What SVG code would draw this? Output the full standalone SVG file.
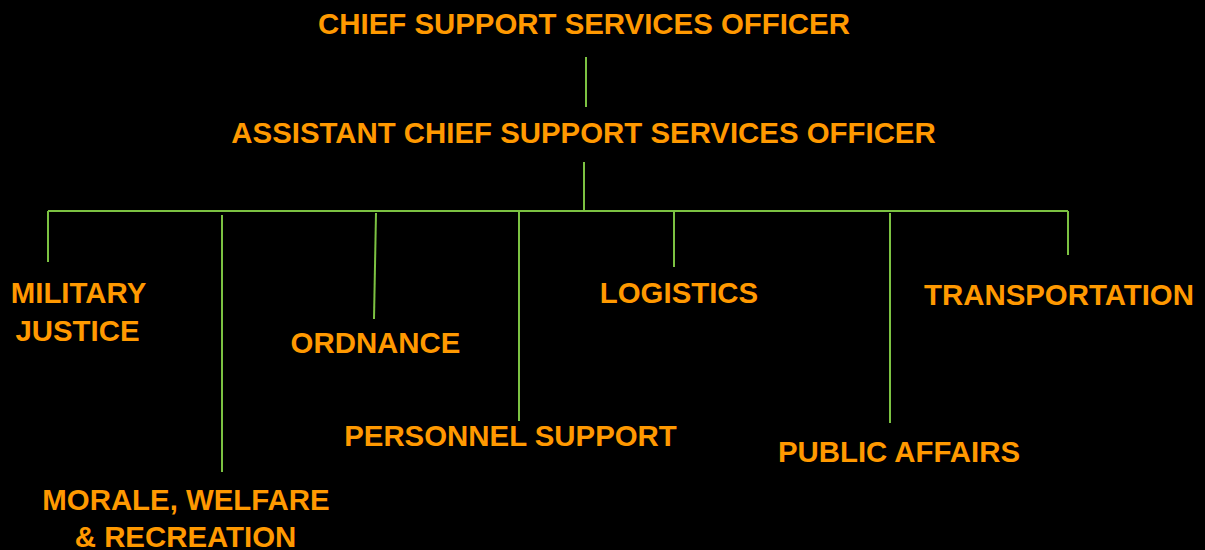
<svg xmlns="http://www.w3.org/2000/svg" width="1205" height="550" viewBox="0 0 1205 550">
<style>
.t{font-family:"Liberation Sans",Arial,sans-serif;font-weight:bold;font-size:29.4px;fill:#FF9900;text-anchor:middle}
.c line{stroke:#7CC242;stroke-width:2;fill:none}
</style>
<rect width="1205" height="550" fill="#000"/>
<g id="connectors" class="c">
<line x1="586" y1="57" x2="586" y2="107"/>
<line x1="584" y1="162" x2="584" y2="211"/>
<line x1="48" y1="211" x2="1068" y2="211"/>
<line x1="48" y1="211" x2="48" y2="262"/>
<line x1="222" y1="215" x2="222" y2="472"/>
<line x1="376" y1="213" x2="374" y2="319"/>
<line x1="519" y1="211" x2="519" y2="421"/>
<line x1="674" y1="211" x2="674" y2="267"/>
<line x1="890" y1="213" x2="890" y2="423"/>
<line x1="1068" y1="211" x2="1068" y2="255"/>
</g>
<g id="chief"><text class="t" x="584" y="34">CHIEF SUPPORT SERVICES OFFICER</text></g>
<g id="assistant"><text class="t" x="583.5" y="143">ASSISTANT CHIEF SUPPORT SERVICES OFFICER</text></g>
<g id="military-justice"><text class="t" x="78.5" y="303">MILITARY</text><text class="t" x="77.5" y="341">JUSTICE</text></g>
<g id="mwr"><text class="t" x="186" y="510">MORALE, WELFARE</text><text class="t" x="185.5" y="547">&amp; RECREATION</text></g>
<g id="ordnance"><text class="t" x="375.5" y="353">ORDNANCE</text></g>
<g id="personnel-support"><text class="t" x="510.5" y="446">PERSONNEL SUPPORT</text></g>
<g id="logistics"><text class="t" x="679" y="303">LOGISTICS</text></g>
<g id="public-affairs"><text class="t" x="899" y="462">PUBLIC AFFAIRS</text></g>
<g id="transportation"><text class="t" x="1059" y="305">TRANSPORTATION</text></g>
</svg>
